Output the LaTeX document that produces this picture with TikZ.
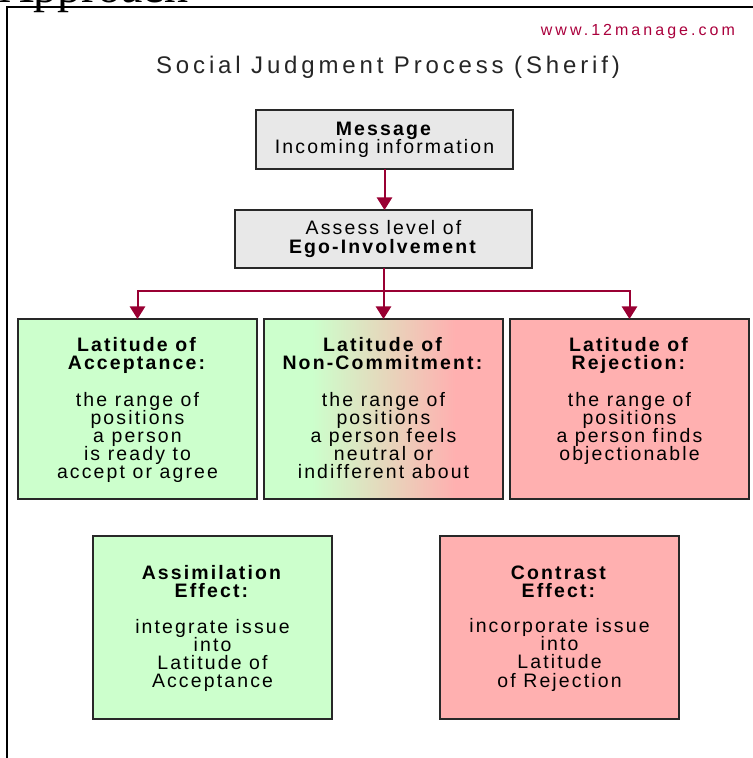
\documentclass[tikz,border=0pt]{standalone}
\usepackage{fontspec}
\setmainfont{Liberation Serif}
\newfontfamily\bodyfont[LetterSpace=11]{Liberation Sans}
\newfontfamily\titlefont[LetterSpace=16]{Liberation Sans}
\newfontfamily\wwwfont[LetterSpace=19]{Liberation Sans}
\usetikzlibrary{arrows.meta,calc}
\definecolor{arrowred}{RGB}{153,0,51}
\definecolor{wwwred}{RGB}{170,0,60}
\definecolor{accgreen}{RGB}{204,255,204}
\definecolor{rejpink}{RGB}{255,176,176}
\definecolor{midbeige}{RGB}{229,216,188}
\definecolor{boxgray}{RGB}{232,232,232}
\definecolor{edgegray}{RGB}{40,40,40}
\pgfdeclarehorizontalshading{latmid}{100bp}{color(0bp)=(accgreen); color(35bp)=(accgreen); color(50bp)=(midbeige); color(65bp)=(rejpink); color(100bp)=(rejpink)}
\begin{document}
\begin{tikzpicture}[x=0.75pt,y=-0.75pt,
  every node/.style={inner sep=0pt,outer sep=0pt},
  bodytext/.style={font=\bodyfont\fontsize{14.6pt}{13.6pt}\selectfont,execute at begin node={\lineskiplimit=-20pt\relax}},
  graybox/.style={bodytext,draw=edgegray,line width=1.2pt,fill=boxgray,align=center},
  latbox/.style={draw=edgegray,line width=1.2pt,minimum width=179.25pt},
  lattext/.style={bodytext,align=center,anchor=north},
  wire/.style={draw=arrowred,line width=1.5pt,line join=miter},
  link/.style={wire,-{Triangle[width=11.5pt,length=9.5pt]}}
]
\useasboundingbox (0,0) rectangle (753,758);
\clip (0,0) rectangle (753,758);
% frame and cut-off heading
\draw[line width=1.5pt] (7,770) -- (7,7) -- (770,7);
\node[font=\fontsize{36pt}{40pt}\selectfont,anchor=base west] (appr) at (-1,2.5) {Approach};
\node[font=\wwwfont\fontsize{12pt}{12pt}\selectfont,text=wwwred,anchor=base east] (www) at (735,35) {www.12manage.com};
\node[font=\titlefont\fontsize{18pt}{18pt}\selectfont,text=black!85,anchor=base] (title) at (388,73.5) {Social Judgment Process (Sherif)};
% top boxes
\node[graybox,minimum width=192.75pt,minimum height=44.25pt] (msg) at (384.5,139.5) {\textbf{Message}\\Incoming information};
\node[graybox,minimum width=222.75pt,minimum height=43.5pt] (assess) at (383.5,239) {Assess level of\\\textbf{Ego-Involvement}};
% latitude boxes
\node[latbox,fill=accgreen,minimum height=135pt] (b1) at (137.5,409) {};
\node[latbox,shading=latmid,minimum height=135pt] (b2) at (383.5,409) {};
\node[latbox,fill=rejpink,minimum height=135pt] (b3) at (629.5,409) {};
\node[lattext] (t1) at ($(b1.north)+(0,18.3)$) {\textbf{Latitude of}\\\textbf{Acceptance:}\\[14pt]the range of\\positions\\a person\\is ready to\\accept or agree};
\node[lattext] (t2) at ($(b2.north)+(0,18.3)$) {\textbf{Latitude of}\\\textbf{Non-Commitment:}\\[14pt]the range of\\positions\\a person feels\\neutral or\\indifferent about};
\node[lattext] (t3) at ($(b3.north)+(0,18.3)$) {\textbf{Latitude of}\\\textbf{Rejection:}\\[14pt]the range of\\positions\\a person finds\\objectionable};
% effect boxes
\node[latbox,fill=accgreen,minimum height=137.25pt] (b4) at (212.5,627.5) {};
\node[latbox,fill=rejpink,minimum height=137.25pt] (b5) at (559.5,627.5) {};
\node[lattext] (t4) at ($(b4.north)+(0,29.5)$) {\textbf{Assimilation}\\\textbf{Effect:}\\[13pt]integrate issue\\into\\Latitude of\\Acceptance};
\node[lattext] (t5) at ($(b5.north)+(0,29.5)$) {\textbf{Contrast}\\\textbf{Effect:}\\[13pt]incorporate issue\\into\\Latitude\\of Rejection};
% connectors
\coordinate (split) at (383.5,291);
\draw[link] (msg.south) -- (msg.south |- assess.north);
\draw[wire] (assess.south) -- (split);
\draw[link] (split) -- (split |- b2.north);
\draw[link] (split) -| (b1.north);
\draw[link] (split) -| (b3.north);
\end{tikzpicture}
\end{document}
